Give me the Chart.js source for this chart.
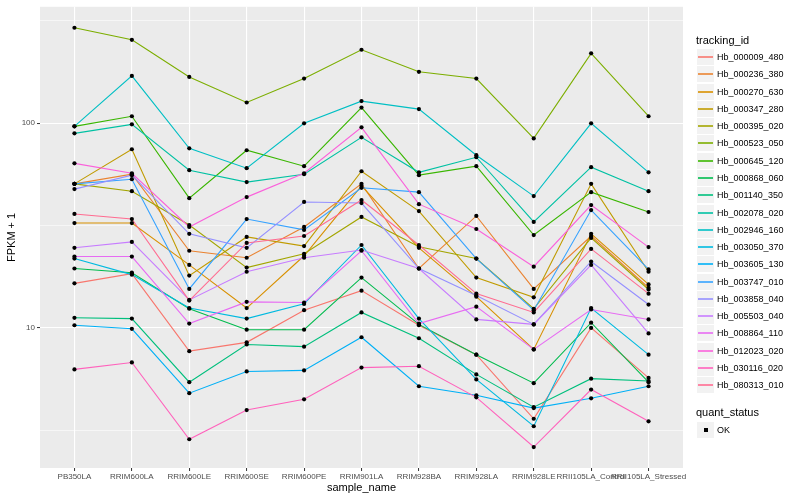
<!DOCTYPE html>
<html>
<head>
<meta charset="utf-8">
<script src="https://cdn.jsdelivr.net/npm/chart.js@4.4.1/dist/chart.umd.min.js"></script>
<style>
  body { margin: 0; background: #fff; }
  #wrap { position: relative; width: 800px; height: 500px; font-family: "Liberation Sans", Arial, sans-serif; }
  #chart { position: absolute; left: 0; top: 0; }
  #legend { position: absolute; left: 0; top: 0; width: 800px; height: 500px; color: #000; }
  .ttl { position: absolute; left: 696px; font-size: 11px; height: 14px; line-height: 14px; }
  .row { position: absolute; left: 697px; height: 17px; display: flex; align-items: center; }
  .key { width: 17px; height: 16px; background: #F2F2F2; position: relative; }
  .key i { position: absolute; left: 1px; right: 1px; top: 7px; height: 2px; opacity: 0.8; }
  .key b { position: absolute; left: 7px; top: 6px; width: 4px; height: 4px; background: #000; }
  .lab { font-size: 9px; margin-left: 3px; }
</style>
</head>
<body>
<div id="wrap">
  <canvas id="chart" width="800" height="500"></canvas>
  <div id="legend"></div>
</div>
<script>
// FPKM + 1 per sample (log scale)

const sampleNames = ["PB350LA", "RRIM600LA", "RRIM600LE", "RRIM600SE", "RRIM600PE", "RRIM901LA",
    "RRIM928BA", "RRIM928LA", "RRIM928LE", "RRII105LA_Control", "RRII105LA_Stressed"];

const trackingIds = ["Hb_000009_480", "Hb_000236_380", "Hb_000270_630", "Hb_000347_280", "Hb_000395_020",
    "Hb_000523_050", "Hb_000645_120", "Hb_000868_060", "Hb_001140_350", "Hb_002078_020",
    "Hb_002946_160", "Hb_003050_370", "Hb_003605_130", "Hb_003747_010", "Hb_003858_040",
    "Hb_005503_040", "Hb_008864_110", "Hb_012023_020", "Hb_030116_020", "Hb_080313_010"];

const quantStatus = ["OK"];

const hb_000009_480 = [16.5, 18.4, 7.7, 8.5, 12.2, 15.2, 10.3, 7.4, 3.6, 10.0, 5.7];
const hb_000236_380 = [50.5, 56.3, 23.8, 22.0, 31.1, 50.5, 19.5, 35.2, 15.5, 28.1, 15.7];
const hb_000270_630 = [32.5, 32.5, 20.3, 12.5, 22.5, 49.4, 24.6, 14.2, 7.85, 28.8, 16.3];
const hb_000347_280 = [50.5, 74.5, 18.0, 27.8, 25.1, 58.2, 37.2, 17.6, 14.1, 50.5, 18.8];
const hb_000395_020 = [50.5, 46.5, 31.8, 19.7, 23.0, 34.8, 24.9, 21.8, 12.4, 27.5, 15.4];
const hb_000523_050 = [292, 255, 168, 126, 165, 228, 178, 165, 84.2, 219, 108];
const hb_000645_120 = [96.4, 108, 43.0, 73.7, 61.6, 119, 55.7, 61.6, 28.4, 46.0, 36.8];
const hb_000868_060 = [19.5, 18.6, 12.4, 9.8, 9.8, 17.6, 10.4, 7.4, 5.37, 10.6, 5.43];
const hb_001140_350 = [11.2, 11.1, 5.43, 8.3, 8.1, 11.9, 8.9, 5.93, 4.1, 5.65, 5.5];
const hb_002078_020 = [89.1, 98.6, 58.9, 51.5, 56.3, 85.2, 57.5, 68.1, 32.9, 60.9, 46.5];
const hb_002946_160 = [96.4, 170, 75.3, 60.2, 99.7, 128, 117, 69.7, 44.0, 99.7, 57.5];
const hb_003050_370 = [21.8, 18.2, 12.5, 11.1, 13.1, 25.4, 11.1, 5.6, 3.31, 12.5, 7.4];
const hb_003605_130 = [10.3, 9.9, 4.8, 6.13, 6.2, 9.0, 5.19, 4.69, 4.06, 4.53, 5.19];
const hb_003747_010 = [50.5, 53.2, 15.5, 34.0, 30.1, 48.3, 46.0, 21.8, 12.2, 37.6, 19.3];
const hb_003858_040 = [47.6, 55.7, 28.8, 24.6, 41.2, 40.7, 19.5, 14.4, 10.4, 21.1, 13.0];
const hb_005503_040 = [24.6, 26.3, 13.7, 18.8, 22.0, 24.0, 19.5, 11.0, 10.4, 20.3, 9.4];
const hb_008864_110 = [22.3, 22.3, 10.5, 13.4, 13.3, 23.8, 10.5, 12.7, 7.85, 12.3, 11.0];
const hb_012023_020 = [63.6, 56.9, 31.1, 43.5, 56.9, 95.3, 40.2, 30.4, 19.9, 39.8, 24.8];
const hb_030116_020 = [6.27, 6.78, 2.86, 3.97, 4.48, 6.4, 6.5, 4.58, 2.62, 5.0, 3.5];
const hb_080313_010 = [36.0, 34.0, 13.6, 26.0, 28.1, 42.1, 25.4, 14.7, 11.9, 24.3, 14.7];

const seriesValues = [hb_000009_480, hb_000236_380, hb_000270_630, hb_000347_280, hb_000395_020,
    hb_000523_050, hb_000645_120, hb_000868_060, hb_001140_350, hb_002078_020,
    hb_002946_160, hb_003050_370, hb_003605_130, hb_003747_010, hb_003858_040,
    hb_005503_040, hb_008864_110, hb_012023_020, hb_030116_020, hb_080313_010];

const yLabelTicks = [10, 100];

// ggplot hue palette, 20 levels
const lineColors = ["#F8766D", "#EA8331", "#D89000", "#C09B00", "#A3A500", "#7CAE00", "#39B600",
    "#00BB4E", "#00BF7D", "#00C1A3", "#00BFC4", "#00BAE0", "#00B0F6", "#35A2FF", "#9590FF",
    "#C77CFF", "#E76BF3", "#FA62DB", "#FF62BC", "#FF6C91"];

const fontFamily = '"Liberation Sans", Arial, sans-serif';
Chart.defaults.font.family = fontFamily;

// log10 range with 5% expansion like ggplot
const allValues = seriesValues.flat();
const logLo = Math.log10(Math.min(...allValues));
const logHi = Math.log10(Math.max(...allValues));
const logPad = (logHi - logLo) * 0.05;
const yMin = Math.pow(10, logLo - logPad);
const yMax = Math.pow(10, logHi + logPad);
const yGridTicks = [Math.pow(10, 0.5), 10, Math.pow(10, 1.5), 100, Math.pow(10, 2.5)];

const datasets = seriesValues.map((vals, i) => ({
    label: trackingIds[i],
    data: vals.map((v, j) => ({ x: j, y: v })),
    borderColor: lineColors[i],
    backgroundColor: lineColors[i],
    borderWidth: 1.1,
    pointRadius: 0,
    fill: false,
    tension: 0,
    order: trackingIds.length - i
}));

datasets.push({
    label: quantStatus[0],
    data: seriesValues.flatMap(vals => vals.map((v, j) => ({ x: j, y: v }))),
    showLine: false,
    pointRadius: 2.1,
    pointBackgroundColor: "#000",
    pointBorderWidth: 0,
    order: -1
});

const panelBackground = {
    id: "panelBackground",
    beforeDraw(chart) {
        const { ctx, chartArea: a } = chart;
        ctx.save();
        ctx.fillStyle = "#EBEBEB";
        ctx.fillRect(a.left, a.top, a.right - a.left, a.bottom - a.top);
        ctx.restore();
    }
};

new Chart(document.getElementById("chart"), {
    type: "line",
    data: { datasets: datasets },
    plugins: [panelBackground],
    options: {
        responsive: false,
        animation: false,
        layout: { padding: { top: 5, right: 117, bottom: 0, left: 0 } },
        plugins: {
            legend: { display: false },
            tooltip: { enabled: false }
        },
        scales: {
            x: {
                type: "linear",
                min: -0.6,
                max: sampleNames.length - 0.4,
                afterBuildTicks: s => { s.ticks = sampleNames.map((_, i) => ({ value: i })); },
                afterFit: s => { s.height = 32; },
                border: { display: false },
                grid: { color: "#fff", lineWidth: 1.1, tickLength: 3, tickColor: "#333", tickWidth: 1 },
                ticks: {
                    autoSkip: false, maxRotation: 0, minRotation: 0, padding: 1,
                    color: "#4D4D4D", font: { size: 8 },
                    callback: v => sampleNames[v]
                },
                title: {
                    display: true, text: "sample_name", color: "#000",
                    font: { size: 11 }, padding: { top: 0, bottom: 5 }
                }
            },
            y: {
                type: "logarithmic",
                min: yMin,
                max: yMax,
                afterBuildTicks: s => { s.ticks = yGridTicks.map(v => ({ value: v })); },
                afterFit: s => { s.width = 40; },
                border: { display: false },
                grid: {
                    color: "#fff",
                    lineWidth: c => yLabelTicks.includes(c.tick.value) ? 1.1 : 0.55,
                    tickLength: 3,
                    tickWidth: 1,
                    tickColor: c => yLabelTicks.includes(c.tick.value) ? "#333" : "rgba(0,0,0,0)"
                },
                ticks: {
                    padding: 2, color: "#4D4D4D", font: { size: 8 },
                    callback: v => yLabelTicks.includes(v) ? String(v) : ""
                },
                title: {
                    display: true, text: "FPKM + 1", color: "#000",
                    font: { size: 11 }, padding: { top: 5, bottom: 0 }
                }
            }
        }
    }
});

// legend, ggplot style, rows on whole pixels
const legend = document.getElementById("legend");
const rowStep = 17.28;
let html = '<div class="ttl" style="top:33px">tracking_id</div>';
trackingIds.forEach((id, i) => {
    const top = 48 + Math.round(i * rowStep);
    html += '<div class="row" style="top:' + top + 'px"><span class="key"><i style="background:' +
        lineColors[i] + '"></i></span><span class="lab">' + id + '</span></div>';
});
html += '<div class="ttl" style="top:405px">quant_status</div>';
quantStatus.forEach((q, i) => {
    const top = 421 + Math.round(i * rowStep);
    html += '<div class="row" style="top:' + top + 'px"><span class="key"><b></b></span><span class="lab">' +
        q + '</span></div>';
});
legend.innerHTML = html;
</script>
</body>
</html>
